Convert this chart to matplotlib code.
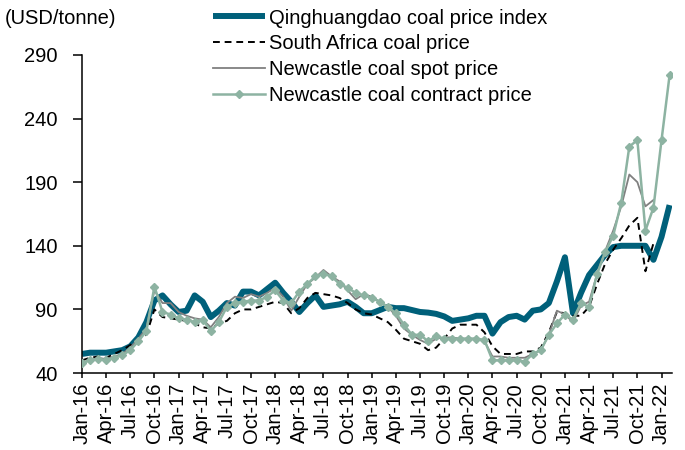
import numpy as np
import matplotlib
matplotlib.use("Agg")
import matplotlib.pyplot as plt

plt.rcParams['font.family'] = ['Liberation Sans', 'DejaVu Sans']

#-----Data (monthly, starting Jan-16)-----

qhd = [55, 56, 56, 56, 57, 58, 61, 68, 80, 97,
       101, 94, 88, 89, 101, 96, 84, 89, 95, 93,
       104, 104, 101, 106, 111, 103, 96, 88, 95, 101,
       92, 93, 94, 96, 92, 87, 87, 89.5, 92, 91,
       91, 89.5, 88, 87.5, 86.5, 84.5, 81, 82, 83, 85,
       85, 71, 80, 84, 85, 82, 89, 90, 95, 112,
       131, 87, 103, 117, 125, 133, 139, 140, 140, 140,
       140, 129, 147, 172]

south_africa = [50, 52, 53, 52, 55, 58, 62, 67, 70, 90,
                84, 83, 82, 81, 79, 76, 75, 79, 81, 87,
                90, 90, 92, 94, 96, 95, 87, 91, 99, 103,
                102, 101, 99, 95, 90, 87, 86, 83, 80, 74,
                67, 65, 63, 58, 60, 67, 75, 78, 78, 78,
                72, 61, 55, 55, 55, 57, 57, 60, 72, 88,
                87, 85, 85, 92, 110, 126, 137, 146, 156, 162,
                120, 142]

newcastle_spot = [48, 50, 52, 51, 53, 55, 60, 67, 75, 105,
                  95, 95, 88, 85, 83, 82, 76, 84, 95, 100,
                  99, 102, 100, 103, 107, 100, 89, 100, 110, 115,
                  121, 116, 112, 105, 98, 102, 100, 96, 92, 85,
                  75, 70, 66, 63, 67, 68, 68, 67, 67, 67,
                  65, 53, 53, 52, 52, 52, 55, 58, 70, 89,
                  86, 80, 93, 96, 118, 136, 152, 171, 196, 190,
                  171, 176]

newcastle_contract = [48, 50, 51, 50, 52, 54, 58, 65, 73, 108,
                      88, 86, 83, 82, 80, 82, 73, 80, 92, 95,
                      96, 97, 97, 100, 105, 97, 95, 104, 110, 116,
                      118, 116, 110, 107, 103, 101, 99, 96, 92, 87,
                      78, 70, 70, 65, 69, 67, 67, 67, 67, 67,
                      66, 50, 50, 50, 50, 49, 55, 58, 70, 79,
                      86, 82, 95, 92, 118, 135, 148, 174, 218, 223,
                      152, 170, 223, 274]

tick_labels = ['Jan-16', 'Apr-16', 'Jul-16', 'Oct-16',
               'Jan-17', 'Apr-17', 'Jul-17', 'Oct-17',
               'Jan-18', 'Apr-18', 'Jul-18', 'Oct-18',
               'Jan-19', 'Apr-19', 'Jul-19', 'Oct-19',
               'Jan-20', 'Apr-20', 'Jul-20', 'Oct-20',
               'Jan-21', 'Apr-21', 'Jul-21', 'Oct-21', 'Jan-22']
y_ticks = [40, 90, 140, 190, 240, 290]

#-----Plot-----

fig = plt.figure(figsize=(6.85, 4.5), dpi=100)
ax = fig.add_axes([0.1197, 0.171, 0.8613, 0.707])

ax.plot(np.arange(len(qhd)), qhd, color='#00607A', lw=4.3,
        solid_capstyle='butt', label='Qinghuangdao coal price index', zorder=2)
ax.plot(np.arange(len(south_africa)), south_africa, color='black', lw=1.4,
        dashes=(3.5, 2.5), label='South Africa coal price', zorder=3)
ax.plot(np.arange(len(newcastle_spot)), newcastle_spot, color='#808080', lw=1.3,
        label='Newcastle coal spot price', zorder=4)
ax.plot(np.arange(len(newcastle_contract)), newcastle_contract, color='#8DB3A2', lw=1.8,
        marker='D', markersize=4, label='Newcastle coal contract price', zorder=5)

ax.set_xlim(0, 73.3)
ax.set_ylim(40, 290)
ax.set_yticks(y_ticks)
ax.set_xticks(np.arange(0, 3 * len(tick_labels), 3))
ax.set_xticklabels(tick_labels, rotation=90)

for side in ['top', 'right']:
    ax.spines[side].set_visible(False)
for side in ['left', 'bottom']:
    ax.spines[side].set_linewidth(1.1)

ax.tick_params(axis='y', direction='out', length=6.5, width=1.1, pad=11, labelsize=14.5)
ax.tick_params(axis='x', direction='out', length=3.6, width=1.1, pad=3.5, labelsize=14.5)

fig.text(0.007, 1 - 18 / 450, '(USD/tonne)', fontsize=14.5, va='center', ha='left')

fig.legend(loc='upper left', bbox_to_anchor=(0.305, 0.99), frameon=False,
           fontsize=14.5, handlelength=2.6, handletextpad=0.2, labelspacing=0.34,
           borderaxespad=0, borderpad=0.2)

fig.savefig('out.png', dpi=100)
